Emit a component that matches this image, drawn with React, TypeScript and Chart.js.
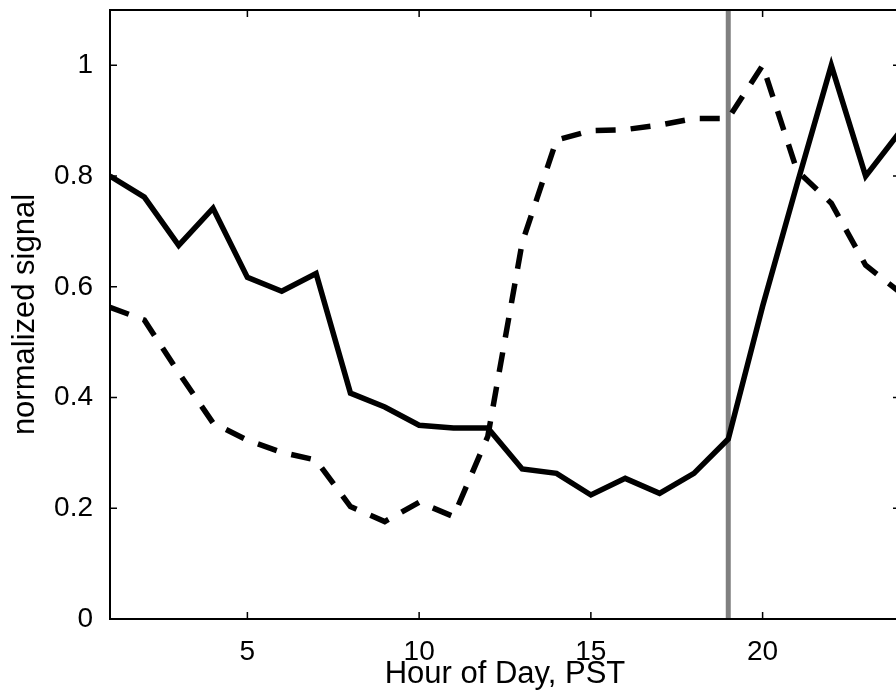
import { useEffect, useRef } from 'react';
import { Chart, registerables } from 'chart.js';

Chart.register(...registerables);

const hours = [1, 2, 3, 4, 5, 6, 7, 8, 9, 10, 11, 12, 13, 14, 15, 16, 17, 18, 19, 20, 21, 22, 23, 24];
const solidSignal = [
  0.8, 0.762, 0.675, 0.742, 0.617, 0.592, 0.624, 0.408, 0.383, 0.35, 0.345, 0.345,
  0.271, 0.263, 0.224, 0.254, 0.227, 0.263, 0.325, 0.565, 0.785, 1.0, 0.8, 0.88,
];
const dashedSignal = [
  0.563, 0.54, 0.445, 0.354, 0.323, 0.301, 0.287, 0.203, 0.176, 0.211, 0.185, 0.33,
  0.68, 0.865, 0.882, 0.884, 0.892, 0.904, 0.904, 1.0, 0.81, 0.751, 0.639, 0.59,
];
const markerHour = 19;
const xTickValues = [5, 10, 15, 20];
const yTickValues = [0, 0.2, 0.4, 0.6, 0.8, 1];

const FONT = "'Liberation Sans', Arial, Helvetica, sans-serif";

// box round the plot with short ticks pointing inwards on every side
const framePlugin = {
  id: 'matlabFrame',
  afterDraw(chart: any) {
    const { ctx, chartArea, scales } = chart;
    const { left, right, top, bottom } = chartArea;
    const tickLen = 7;
    ctx.save();
    ctx.strokeStyle = '#000';
    ctx.lineWidth = 2;
    ctx.strokeRect(left, top, right - left, bottom - top);
    ctx.beginPath();
    xTickValues.forEach((v) => {
      const px = scales.x.getPixelForValue(v);
      ctx.moveTo(px, bottom);
      ctx.lineTo(px, bottom - tickLen);
      ctx.moveTo(px, top);
      ctx.lineTo(px, top + tickLen);
    });
    yTickValues.forEach((v) => {
      const py = scales.y.getPixelForValue(v);
      ctx.moveTo(left, py);
      ctx.lineTo(left + tickLen, py);
      ctx.moveTo(right, py);
      ctx.lineTo(right - tickLen, py);
    });
    ctx.lineWidth = 1.5;
    ctx.stroke();
    ctx.restore();
  },
};

const SignalChart = () => {
  const canvasRef = useRef<HTMLCanvasElement | null>(null);
  const chartRef = useRef<Chart | null>(null);

  useEffect(() => {
    if (!canvasRef.current) return;
    const ctx = canvasRef.current.getContext('2d');
    if (!ctx) return;

    if (chartRef.current) {
      chartRef.current.destroy();
    }

    chartRef.current = new Chart(ctx, {
      type: 'line',
      data: {
        datasets: [
          {
            label: 'solid',
            data: hours.map((h, i) => ({ x: h, y: solidSignal[i] })),
            borderColor: '#000',
            borderWidth: 5.5,
            pointRadius: 0,
            tension: 0,
            order: 1,
          },
          {
            label: 'dashed',
            data: hours.map((h, i) => ({ x: h, y: dashedSignal[i] })),
            borderColor: '#000',
            borderWidth: 5.5,
            borderDash: [20, 15],
            pointRadius: 0,
            tension: 0,
            order: 2,
          },
          {
            label: 'marker',
            data: [
              { x: markerHour, y: 0 },
              { x: markerHour, y: 1.1 },
            ],
            borderColor: '#808080',
            borderWidth: 5,
            pointRadius: 0,
            order: 3,
          },
        ],
      },
      options: {
        animation: false,
        responsive: true,
        maintainAspectRatio: false,
        layout: {
          padding: { left: 0, top: 10, right: 10, bottom: 0 },
        },
        plugins: {
          legend: { display: false },
          tooltip: { enabled: false },
        },
        scales: {
          x: {
            type: 'linear',
            min: 1,
            max: 24,
            grid: { display: false },
            border: { display: false },
            afterBuildTicks: (scale: any) => {
              scale.ticks = xTickValues.map((value) => ({ value }));
            },
            afterFit: (scale: any) => {
              scale.height = 79;
              scale.paddingLeft = 0;
              scale.paddingRight = 0;
            },
            ticks: {
              color: '#000',
              padding: 8,
              maxRotation: 0,
              font: { family: FONT, size: 28 },
              callback: (value: any) => String(value),
            },
            title: {
              display: true,
              text: 'Hour of Day, PST',
              color: '#000',
              font: { family: FONT, size: 31 },
              padding: { top: 0, bottom: 5 },
            },
          },
          y: {
            type: 'linear',
            min: 0,
            max: 1.1,
            grid: { display: false },
            border: { display: false },
            afterBuildTicks: (scale: any) => {
              scale.ticks = yTickValues.map((value) => ({ value }));
            },
            afterFit: (scale: any) => {
              scale.width = 110;
              scale.paddingTop = 0;
              scale.paddingBottom = 0;
            },
            ticks: {
              color: '#000',
              padding: 9,
              font: { family: FONT, size: 28 },
              callback: (value: any) => String(value),
            },
            title: {
              display: true,
              text: 'normalized signal',
              color: '#000',
              font: { family: FONT, size: 31 },
              padding: { top: 7, bottom: 0 },
            },
          },
        },
      },
      plugins: [framePlugin],
    });

    return () => {
      if (chartRef.current) {
        chartRef.current.destroy();
        chartRef.current = null;
      }
    };
  }, []);

  return (
    <div style={{ position: 'fixed', left: 0, top: 0, width: '896px', height: '698px', overflow: 'hidden', background: '#fff' }}>
      <div style={{ position: 'relative', width: '910px', height: '698px' }}>
        <canvas ref={canvasRef} />
      </div>
    </div>
  );
};

export default function App() {
  return <SignalChart />;
}
